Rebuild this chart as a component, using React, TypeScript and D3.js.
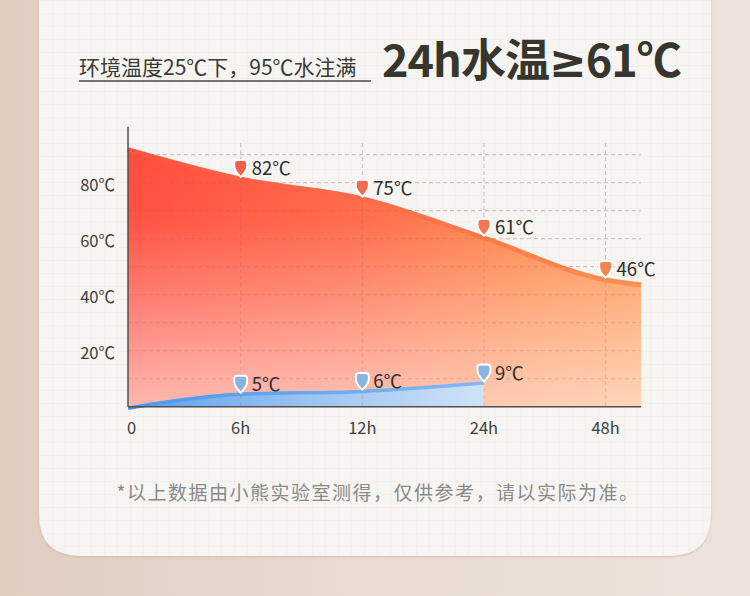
import React from 'react';
import * as d3 from 'd3';

const timeLabels = ['0', '6h', '12h', '24h', '48h'];
const hotValues = [82, 75, 61, 46];
const hotEdge = [92.5, 44.3];
const coldValues = [5, 6, 9];
const coldStart = 0;
const yTicks = [20, 40, 60, 80];
const gridValues = [10, 20, 30, 40, 50, 60, 70, 80, 90];
const hotMarkerColors = ['#f2604c', '#f26a50', '#f27852', '#f38452'];

const W = 750;
const H = 596;
const FONT = '"Noto Sans CJK SC", "Noto Sans", sans-serif';

export default function App() {
  const x = d3.scaleLinear().domain([0, 1, 4]).range([128, 240.7, 605.6]);
  const y = d3.scaleLinear().domain([0, 100]).range([406.7, 126.7]);
  const xEnd = 4.29;

  const hotPts: [number, number][] = [
    [0, hotEdge[0]],
    ...hotValues.map((v, i) => [i + 1, v] as [number, number]),
    [xEnd, hotEdge[1]],
  ];
  const coldPts: [number, number][] = [
    [0, coldStart],
    ...coldValues.map((v, i) => [i + 1, v] as [number, number]),
  ];

  const area = d3
    .area<[number, number]>()
    .x((d) => x(d[0]))
    .y0(y(0))
    .y1((d) => y(d[1]))
    .curve(d3.curveMonotoneX);
  const line = d3
    .line<[number, number]>()
    .x((d) => x(d[0]))
    .y((d) => y(d[1]))
    .curve(d3.curveMonotoneX);

  const pin =
    'M0,0 C-3,-3 -6.5,-7 -6.5,-11 L-6.5,-14 Q-6.5,-17 -3.5,-17 L3.5,-17 Q6.5,-17 6.5,-14 L6.5,-11 C6.5,-7 3,-3 0,0 Z';

  const cardPath = (() => {
    const l = 39, r = 711, t = -60, b = 556, rr = 42;
    return `M${l},${t} L${r},${t} L${r},${b - rr} Q${r},${b} ${r - rr},${b} L${l + rr},${b} Q${l},${b} ${l},${b - rr} Z`;
  })();

  return (
    <svg
      width={W}
      height={H}
      style={{ position: 'fixed', left: 0, top: 0, display: 'block' }}
      xmlns="http://www.w3.org/2000/svg"
    >
      <defs>
        <linearGradient id="bg" x1="0" y1="0" x2="1" y2="0">
          <stop offset="0" stopColor="#dfcdc0" />
          <stop offset="0.5" stopColor="#e8dcd3" />
          <stop offset="1" stopColor="#ede3dc" />
        </linearGradient>
        <pattern id="grid" width="13" height="13" patternUnits="userSpaceOnUse" x="39" y="0">
          <path d="M13,0 L0,0 L0,13" fill="none" stroke="#ecebe7" strokeWidth="1" />
        </pattern>
        <linearGradient id="hotH" x1="128" y1="0" x2="641" y2="0" gradientUnits="userSpaceOnUse">
          <stop offset="0" stopColor="#ff4a3a" />
          <stop offset="0.45" stopColor="#ff6644" />
          <stop offset="0.75" stopColor="#ff8447" />
          <stop offset="1" stopColor="#ff9550" />
        </linearGradient>
        <linearGradient id="hotV" x1="0" y1="140" x2="0" y2="406" gradientUnits="userSpaceOnUse">
          <stop offset="0" stopColor="#ffffff" stopOpacity="0" />
          <stop offset="0.3" stopColor="#ffffff" stopOpacity="0.05" />
          <stop offset="1" stopColor="#ffffff" stopOpacity="0.6" />
        </linearGradient>
        <linearGradient id="hotStroke" x1="128" y1="0" x2="641" y2="0" gradientUnits="userSpaceOnUse">
          <stop offset="0" stopColor="#ff5444" />
          <stop offset="0.5" stopColor="#ff6c48" />
          <stop offset="1" stopColor="#ff8a48" />
        </linearGradient>
        <linearGradient id="coldH" x1="128" y1="0" x2="484" y2="0" gradientUnits="userSpaceOnUse">
          <stop offset="0" stopColor="#5c9eee" />
          <stop offset="0.45" stopColor="#94c0f1" />
          <stop offset="1" stopColor="#d0e2f6" />
        </linearGradient>
        <linearGradient id="coldStroke" x1="128" y1="0" x2="484" y2="0" gradientUnits="userSpaceOnUse">
          <stop offset="0" stopColor="#4a96ef" />
          <stop offset="1" stopColor="#86b8f1" />
        </linearGradient>
        <filter id="shadow" x="-10%" y="-10%" width="120%" height="120%">
          <feDropShadow dx="0" dy="1" stdDeviation="1.2" floodColor="#b89a78" floodOpacity="0.45" />
        </filter>
      </defs>

      <rect x={0} y={0} width={W} height={H} fill="url(#bg)" />
      <path d={cardPath} fill="#f6f5f2" filter="url(#shadow)" />
      <path d={cardPath} fill="url(#grid)" />

      {/* titles */}
      <text x={79} y={75} fontFamily={FONT} fontSize={21} fill="#3a3a36">
        环境温度25℃下，95℃水注满
      </text>
      <line x1={79} x2={371} y1={81} y2={81} stroke="#4a4a44" strokeWidth={1.4} />
      <text x={382} y={77} fontFamily={FONT} fontSize={45} fontWeight={700} letterSpacing={-1} fill="#36362e">
        24h水温<tspan fontFamily='"DejaVu Sans", sans-serif'>≥</tspan>61℃
      </text>

      {/* grid lines (under area) */}
      {gridValues.map((g) => (
        <line key={'h' + g} x1={x(0)} x2={x(xEnd)} y1={y(g)} y2={y(g)} stroke="#d6d6d4" strokeWidth={1} strokeDasharray="4,3" />
      ))}
      {[1, 2, 3, 4].map((i) => (
        <line key={'v' + i} x1={x(i)} x2={x(i)} y1={143} y2={y(0)} stroke="#d6d6d4" strokeWidth={1} strokeDasharray="4,3" />
      ))}

      {/* hot area */}
      <path d={area(hotPts) || ''} fill="url(#hotH)" />
      <path d={area(hotPts) || ''} fill="url(#hotV)" />
      <path d={line(hotPts) || ''} fill="none" stroke="url(#hotStroke)" strokeWidth={5} strokeOpacity={0.85} transform="translate(0,2)" />

      {/* cold area */}
      <path d={area(coldPts) || ''} fill="url(#coldH)" />
      <path d={line(coldPts) || ''} fill="none" stroke="url(#coldStroke)" strokeWidth={3.5} transform="translate(0,1.5)" />

      {/* grid lines over area */}
      {gridValues.map((g) => (
        <line key={'ho' + g} x1={x(0)} x2={x(xEnd)} y1={y(g)} y2={y(g)} stroke="rgba(150,90,80,0.2)" strokeWidth={1} strokeDasharray="4,3" />
      ))}
      {[1, 2, 3, 4].map((i) => (
        <line key={'vo' + i} x1={x(i)} x2={x(i)} y1={143} y2={y(0)} stroke="rgba(150,90,80,0.2)" strokeWidth={1} strokeDasharray="4,3" />
      ))}

      {/* axes */}
      <line x1={x(0)} x2={x(0)} y1={y(100)} y2={y(0)} stroke="#4f4f4f" strokeWidth={1.5} />
      <line x1={x(0)} x2={x(xEnd)} y1={y(0)} y2={y(0)} stroke="#4f4f4f" strokeWidth={1.5} />

      {yTicks.map((t) => (
        <text key={t} x={115} y={y(t) + 3.5} textAnchor="end" dominantBaseline="middle" fontFamily={FONT} fontSize={16.5} fill="#3f3f3f">
          {t}℃
        </text>
      ))}
      {timeLabels.map((l, i) => (
        <text
          key={l}
          x={i === 0 ? x(0) - 1 : x(i)}
          y={434}
          textAnchor={i === 0 ? 'start' : 'middle'}
          fontFamily={FONT}
          fontSize={16.5}
          fill="#3f3f3f"
        >
          {l}
        </text>
      ))}

      {/* hot markers */}
      {hotValues.map((v, i) => (
        <g key={'hm' + i} transform={`translate(${x(i + 1)},${y(v)})`}>
          <path d={pin} fill={hotMarkerColors[i]} stroke="#ffffff" strokeWidth={2} />
          <text x={11} y={-7} dominantBaseline="middle" fontFamily={FONT} fontSize={18.5} fill="#2e2e2e">
            {v}℃
          </text>
        </g>
      ))}
      {/* cold markers */}
      {coldValues.map((v, i) => (
        <g key={'cm' + i} transform={`translate(${x(i + 1)},${y(v)})`}>
          <path d={pin} fill="#8ab4e0" stroke="#ffffff" strokeWidth={2} />
          <text x={11} y={-7} dominantBaseline="middle" fontFamily={FONT} fontSize={18.5} fill="#2e2e2e">
            {v}℃
          </text>
        </g>
      ))}

      <text x={378} y={500} textAnchor="middle" fontFamily={FONT} fontSize={19} letterSpacing={1.5} fill="#8a8a8a">
        *以上数据由小熊实验室测得，仅供参考，请以实际为准。
      </text>
    </svg>
  );
}
